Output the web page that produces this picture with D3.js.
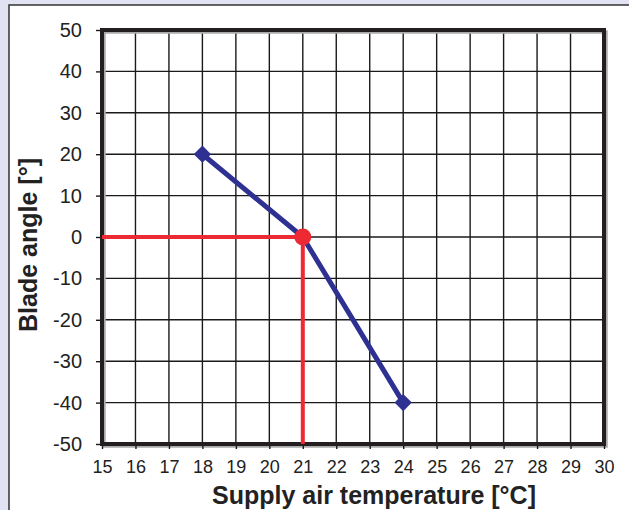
<!DOCTYPE html>
<html><head><meta charset="utf-8">
<script src="https://cdn.jsdelivr.net/npm/d3@7"></script>
<style>body{margin:0;background:#e1e3f3;} svg{display:block;}</style>
</head><body>
<svg id="chart" width="629" height="510"></svg>
<script>
const xTicks = [15,16,17,18,19,20,21,22,23,24,25,26,27,28,29,30];
const yTicks = [-50,-40,-30,-20,-10,0,10,20,30,40,50];
const curveX = [18, 21, 24];
const curveY = [20, 0, -40];
const opX = [15, 21, 21];
const opY = [0, 0, -50];
const opPoint = [21, 0];

const svg = d3.select("#chart");
const font = "'Liberation Sans', Arial, sans-serif";
svg.append("rect").attr("x",0).attr("y",0).attr("width",629).attr("height",510).attr("fill","#e1e3f3");
svg.append("rect").attr("x",9).attr("y",5).attr("width",640).attr("height",520).attr("fill","#fff")
  .attr("stroke","#333").attr("stroke-width",1.5);

const L=102,R=604,T=30,B=444;
const x = d3.scaleLinear().domain([15,30]).range([L,R]);
const y = d3.scaleLinear().domain([-50,50]).range([B,T]);

const g = svg.append("g");
g.selectAll(".vx").data(xTicks).join("line").attr("x1",d=>x(d)).attr("x2",d=>x(d)).attr("y1",T).attr("y2",B)
  .attr("stroke","#1a1a1a").attr("stroke-width",1.4);
g.selectAll(".hy").data(yTicks).join("line").attr("y1",d=>y(d)).attr("y2",d=>y(d)).attr("x1",L).attr("x2",R)
  .attr("stroke","#1a1a1a").attr("stroke-width",1.4);

svg.append("rect").attr("x",L+2).attr("y",T+2).attr("width",R-L).attr("height",B-T).attr("fill","none")
  .attr("stroke","#aaa").attr("stroke-width",3.5);
const fmt = d => String(d);
const xAxis = d3.axisBottom(x).tickValues(xTicks).tickSize(5).tickPadding(11).tickFormat(fmt);
const yAxis = d3.axisLeft(y).tickValues(yTicks).tickSize(6).tickPadding(14).tickFormat(fmt);
const gx = svg.append("g").attr("transform",`translate(0,${B})`).call(xAxis);
const gy = svg.append("g").attr("transform",`translate(${L},0)`).call(yAxis);
[gx,gy].forEach(a=>{
  a.select(".domain").remove();
  a.selectAll(".tick line").attr("stroke","#1a1a1a").attr("stroke-width",1.4);
  a.selectAll(".tick text").style("font-family",font).attr("fill","#222");
});
gx.selectAll(".tick text").style("font-size","18px");
gy.selectAll(".tick text").style("font-size","20px");
svg.append("rect").attr("x",L).attr("y",T).attr("width",R-L).attr("height",B-T).attr("fill","none")
  .attr("stroke","#231f20").attr("stroke-width",4);

const line = d3.line().x(d=>x(d[0])).y(d=>y(d[1]));
svg.append("path").datum(opX.map((v,i)=>[v,opY[i]])).attr("d",line).attr("fill","none")
  .attr("stroke","#ed2a33").attr("stroke-width",4);
const cd = curveX.map((v,i)=>[v,curveY[i]]);
svg.append("path").datum(cd).attr("d",line).attr("fill","none").attr("stroke","#2e3192").attr("stroke-width",5).attr("stroke-linejoin","round");
svg.selectAll(".mk").data([cd[0],cd[2]]).join("path")
  .attr("d",d3.symbol(d3.symbolSquare,150))
  .attr("transform",d=>`translate(${x(d[0])},${y(d[1])}) rotate(45)`).attr("fill","#2e3192");
svg.append("circle").attr("cx",x(opPoint[0])).attr("cy",y(opPoint[1])).attr("r",8.5).attr("fill","#ed2a33");

svg.append("text").attr("x",374).attr("y",504).attr("text-anchor","middle")
  .style("font-family",font).style("font-weight","bold").style("font-size","25px").attr("fill","#222")
  .text("Supply air temperature [°C]");
svg.append("text").attr("transform",`translate(37,245) rotate(-90)`).attr("text-anchor","middle")
  .style("font-family",font).style("font-weight","bold").style("font-size","25px").attr("fill","#222")
  .text("Blade angle [°]");
</script>
</body></html>
